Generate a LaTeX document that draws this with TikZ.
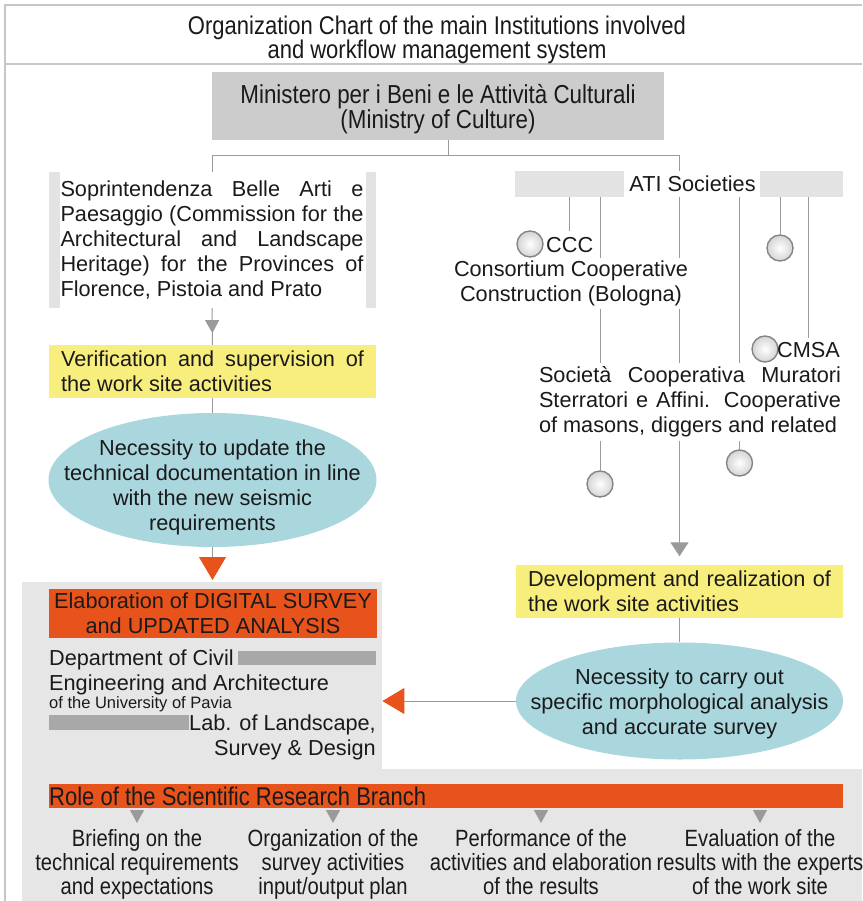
\documentclass[tikz,border=0pt]{standalone}
\usepackage{fontspec}
\setmainfont{Liberation Sans}
\newfontfamily\condfont[FakeStretch=0.86]{Liberation Sans}
\usetikzlibrary{arrows.meta,shapes.geometric,decorations.markings,calc}
\hyphenpenalty=10000
\exhyphenpenalty=10000
\tolerance=9999
\hbadness=10000
\definecolor{lineC}{HTML}{9A9A9A}
\definecolor{frameC}{HTML}{C6C6C6}
\definecolor{minC}{HTML}{CCCCCC}
\definecolor{barL}{HTML}{E3E3E3}
\definecolor{barD}{HTML}{A8A8A8}
\definecolor{yelC}{HTML}{F8EE7E}
\definecolor{bluC}{HTML}{AAD6DE}
\definecolor{oraC}{HTML}{E8531B}
\definecolor{panC}{HTML}{E6E6E6}
\definecolor{txtC}{HTML}{1A1A1A}
\definecolor{ballC}{HTML}{858585}
\pgfdeclarelayer{back}
\pgfdeclarelayer{lines}
\pgfsetlayers{back,lines,main}
\tikzset{
  base/.style={font=\fontsize{21.7}{25}\selectfont, text=txtC, inner sep=0pt},
  small/.style={font=\fontsize{16.5}{19}\selectfont, text=txtC, inner sep=0pt},
  cond/.style={font=\condfont\fontsize{25.6}{24}\selectfont, text=txtC, inner sep=0pt},
  colt/.style={font=\condfont\fontsize{23.5}{24}\selectfont, text=txtC, inner sep=0pt, align=center, anchor=north},
  minbox/.style={font=\condfont\fontsize{26}{23}\selectfont, text=txtC, inner sep=0pt, fill=minC, align=center},
  link/.style={draw=lineC, line width=1pt},
  frame/.style={draw=frameC, line width=1.8pt},
  lbar/.style={fill=barL, inner sep=0pt},
  dbar/.style={fill=barD, inner sep=0pt},
  ybox/.style={base, fill=yelC, text width=303pt, align=justify, minimum height=53pt, inner xsep=12pt},
  ell/.style={ellipse, fill=bluC, inner sep=0pt},
  ball/.style={circle, minimum size=26pt, inner sep=0pt, draw=ballC, line width=1.4pt, inner color=white, outer color=barL!85!gray},
  midarrow/.style={postaction={decorate}, decoration={markings, mark=at position 0.68 with {\arrow{Triangle[width=14pt,length=13pt]}}}}
}
\begin{document}
\begin{tikzpicture}[x=1pt,y=-1pt]
\useasboundingbox (0,0) rectangle (862,901);
% frame
\draw[frame] (5,901) -- (5,5) -- (862,5);
\draw[frame] (5,64) -- (862,64);
% background panels
\begin{pgfonlayer}{back}
\node[fill=panC, minimum width=360pt, minimum height=187pt, inner sep=0pt, anchor=north west] (panel) at (22,582) {};
\node[fill=panC, minimum width=840pt, minimum height=133pt, inner sep=0pt, anchor=north west] (panelB) at (22,768.5) {};
\end{pgfonlayer}
% title and ministry
\node[cond, align=center] (title) at (437,39.5) {Organization Chart of the main Institutions involved\\and workflow management system};
\node[minbox, minimum width=452pt, minimum height=68pt] (min) at (438,106) {};
\node[minbox, fill=none] (mint) at (438,109) {Ministero per i Beni e le Attività Culturali\\(Ministry of Culture)};
% left branch
\node[base, text width=303pt, align=justify, minimum height=136pt] (sop) at (212,240) {Soprintendenza Belle Arti e\linebreak Paesaggio (Commission for the\linebreak Architectural and Landscape\linebreak Heritage) for the Provinces of\linebreak Florence, Pistoia and Prato};
\node[lbar, minimum width=11pt, minimum height=136pt] (sopL) at (54.5,240) {};
\node[lbar, minimum width=10pt, minimum height=136pt] (sopR) at (371,240) {};
\node[ybox] (ver) at (212.5,371.5) {Verification and supervision of\linebreak the work site activities};
\node[ell, minimum width=328pt, minimum height=134pt] (nec1) at (212.5,480) {};
\node[base, align=center] (nec1t) at (212.5,487) {Necessity to update the\\technical documentation in line\\with the new seismic\\requirements};
\node[base, fill=oraC, minimum width=328pt, minimum height=49pt, align=center] (elab) at (213,613.5) {Elaboration of DIGITAL SURVEY\\and UPDATED ANALYSIS};
\node[base, anchor=base west] (dept) at (49,665) {Department of Civil};
\node[dbar, minimum width=138pt, minimum height=14pt] (bar1) at (307,658) {};
\node[base, anchor=base west] (eng) at (49,690) {Engineering and Architecture};
\node[small, anchor=base west] (univ) at (49,708) {of the University of Pavia};
\node[dbar, minimum width=140pt, minimum height=15pt] (bar2) at (119,722.5) {};
\node[base, anchor=base east] (lab) at (376,730) {Lab. of Landscape,};
\node[base, anchor=base east] (surv) at (376,755) {Survey \& Design};
% right branch
\node[lbar, minimum width=109pt, minimum height=26pt] (atiL) at (569.5,184) {};
\node[lbar, minimum width=83pt, minimum height=26pt] (atiR) at (801.5,184) {};
\node[base, fill=white, minimum height=26pt] (ati) at (692.5,184) {ATI Societies};
\node[ball] (c1) at (530,244) {};
\node[base, anchor=base west] (cccT) at (546,252) {CCC};
\node[base, fill=white, align=center, inner ysep=3pt] (consT) at (571,283.5) {Consortium Cooperative\\Construction (Bologna)};
\node[ball] (c2) at (780,248) {};
\node[ball] (c3) at (765,349) {};
\node[base, anchor=base west] (cmsaT) at (777,357) {CMSA};
\node[base, fill=white, text width=302pt, align=justify, inner ysep=4pt] (socT) at (690,402) {Società Cooperativa Muratori\linebreak Sterratori e Affini. Cooperative\linebreak of masons, diggers and related};
\node[ball] (c4) at (600,484) {};
\node[ball] (c5) at (739.5,463) {};
\node[ybox] (dev) at (679.5,591) {Development and realization of\linebreak the work site activities};
\node[ell, minimum width=327pt, minimum height=117pt] (nec2) at (679.5,701) {};
\node[base, align=center] (nec2t) at (679.5,703.5) {Necessity to carry out\\specific morphological analysis\\and accurate survey};
% bottom
\node[fill=oraC, minimum width=794pt, minimum height=24pt, inner sep=0pt, anchor=north west] (role) at (49,784) {};
\node[cond, anchor=base west] (roleT) at (49,805) {Role of the Scientific Research Branch};
\node[colt] (b1) at (137,829.5) {Briefing on the\\technical requirements\\and expectations};
\node[colt] (b2) at (333,829.5) {Organization of the\\survey activities\\input/output plan};
\node[colt] (b3) at (541,829.5) {Performance of the\\activities and elaboration\\of the results};
\node[colt] (b4) at (760,829.5) {Evaluation of the\\results with the experts\\of the work site};
% connectors
\begin{pgfonlayer}{lines}
\coordinate (j) at ($(min.south)+(10,15)$);
\draw[link] ($(min.south)+(10,0)$) -- (j);
\draw[link] (j) -| (sop.north);
\draw[link, -{Triangle[width=18pt,length=14pt]}, shorten >=8pt] (j) -| (dev.north);
\draw[link, midarrow] (sop.south) -- (ver.north);
\draw[link] (ver.south) -- (nec1.north);
\draw[link, -{Triangle[width=27pt,length=23pt,color=oraC]}, shorten >=2pt] (nec1.south) -- (nec1.south |- panel.north);
\draw[link, shorten <=6pt] (cccT.north) -- (cccT.north |- atiL.south);
\draw[link] (c4.north) -- (c4.north |- atiL.south);
\draw[link] (c5.north) -- (c5.north |- ati.south);
\draw[link] (c2.north) -- (c2.north |- atiR.south);
\draw[link, shorten <=4pt] (cmsaT.north) -- (cmsaT.north |- atiR.south);
\draw[link] (dev.south) -- (nec2.north);
\draw[link, -{Triangle[width=26pt,length=22pt,color=oraC]}] (nec2.west) -- (panel.east |- nec2.west);
\foreach \b in {b1,b2,b3,b4}{
  \draw[link, -{Triangle[width=14pt,length=13pt]}, shorten <=2pt] (role.south -| \b) -- (\b |- 0,823);
}
\end{pgfonlayer}
\end{tikzpicture}
\end{document}
